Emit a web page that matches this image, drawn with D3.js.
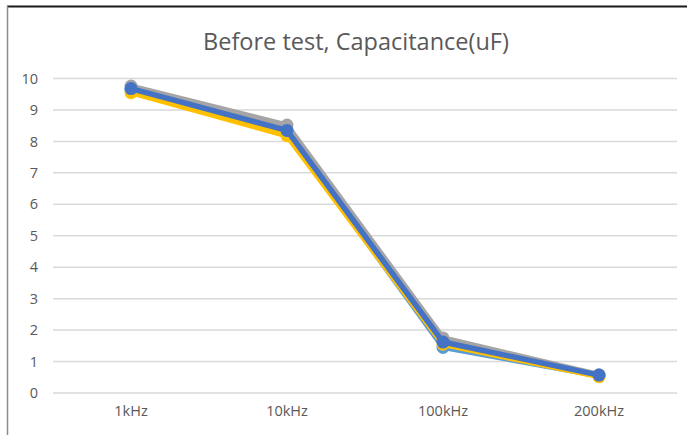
<!DOCTYPE html>
<html><head><meta charset="utf-8">
<script src="https://cdn.jsdelivr.net/npm/d3@7"></script>
<style>body{margin:0;background:#fff}svg{display:block}</style>
</head><body>
<script>
const categories = ["1kHz","10kHz","100kHz","200kHz"];
const seriesGray = [9.76, 8.52, 1.75, 0.58];
const seriesYellow = [9.55, 8.18, 1.55, 0.52];
const seriesLightBlue = [9.64, 8.3, 1.45, 0.55];
const seriesBlue = [9.68, 8.35, 1.62, 0.57];
const yTicks = [0,1,2,3,4,5,6,7,8,9,10];
const title = "Before test, Capacitance(uF)";

const W = 687, H = 435;
const svg = d3.select("body").append("svg").attr("width", W).attr("height", H);
svg.append("rect").attr("width", W).attr("height", H).attr("fill", "#fff");
// frame
svg.append("line").attr("x1",7).attr("x2",W).attr("y1",6.5).attr("y2",6.5).attr("stroke","#1a1a1a").attr("stroke-width",2);
svg.append("line").attr("x1",7.5).attr("x2",7.5).attr("y1",6).attr("y2",H).attr("stroke","#8c8c8c").attr("stroke-width",1.5);

const x = d3.scaleBand().domain(categories).range([53, 677]);
const y = d3.scaleLinear().domain([0, 10]).range([393, 78.5]);

const font = "'Open Sans', sans-serif";
svg.append("text").attr("x", 356).attr("y", 50).attr("text-anchor","middle")
  .attr("font-family", font).attr("font-size", 23.5).attr("fill","#595959").text(title);

const yAxis = d3.axisLeft(y).tickValues(yTicks).tickSize(0).tickPadding(0);
const gy = svg.append("g").attr("transform","translate(38,0)").call(yAxis);
gy.select(".domain").remove();
gy.selectAll("text").attr("font-family", font).attr("font-size", 14.5).attr("fill","#595959");

const grid = svg.append("g");
grid.selectAll("line").data(yTicks).join("line")
  .attr("x1", 53).attr("x2", 677).attr("y1", d=>y(d)).attr("y2", d=>y(d))
  .attr("stroke","#d9d9d9").attr("stroke-width",1.5);

const xAxis = d3.axisBottom(x).tickSize(0).tickPadding(0);
const gx = svg.append("g").attr("transform","translate(0,406)").call(xAxis);
gx.select(".domain").remove();
gx.selectAll("text").attr("font-family", font).attr("font-size", 14.5).attr("fill","#595959");

const series = [
  {v: seriesLightBlue, c: "#5b9bd5"},
  {v: seriesYellow, c: "#ffc000"},
  {v: seriesGray, c: "#a5a5a5"},
  {v: seriesBlue, c: "#4472c4"}
];
const line = d3.line().x((d,i)=>x(categories[i]) + x.bandwidth()/2).y(d=>y(d));
series.forEach(s => {
  const g = svg.append("g");
  g.append("path").attr("d", line(s.v)).attr("fill","none").attr("stroke", s.c)
    .attr("stroke-width", 5.5).attr("stroke-linejoin","round");
  g.selectAll("circle").data(s.v).join("circle")
    .attr("cx", (d,i)=>x(categories[i]) + x.bandwidth()/2).attr("cy", d=>y(d))
    .attr("r", 6.5).attr("fill", s.c);
});
</script>
</body></html>
